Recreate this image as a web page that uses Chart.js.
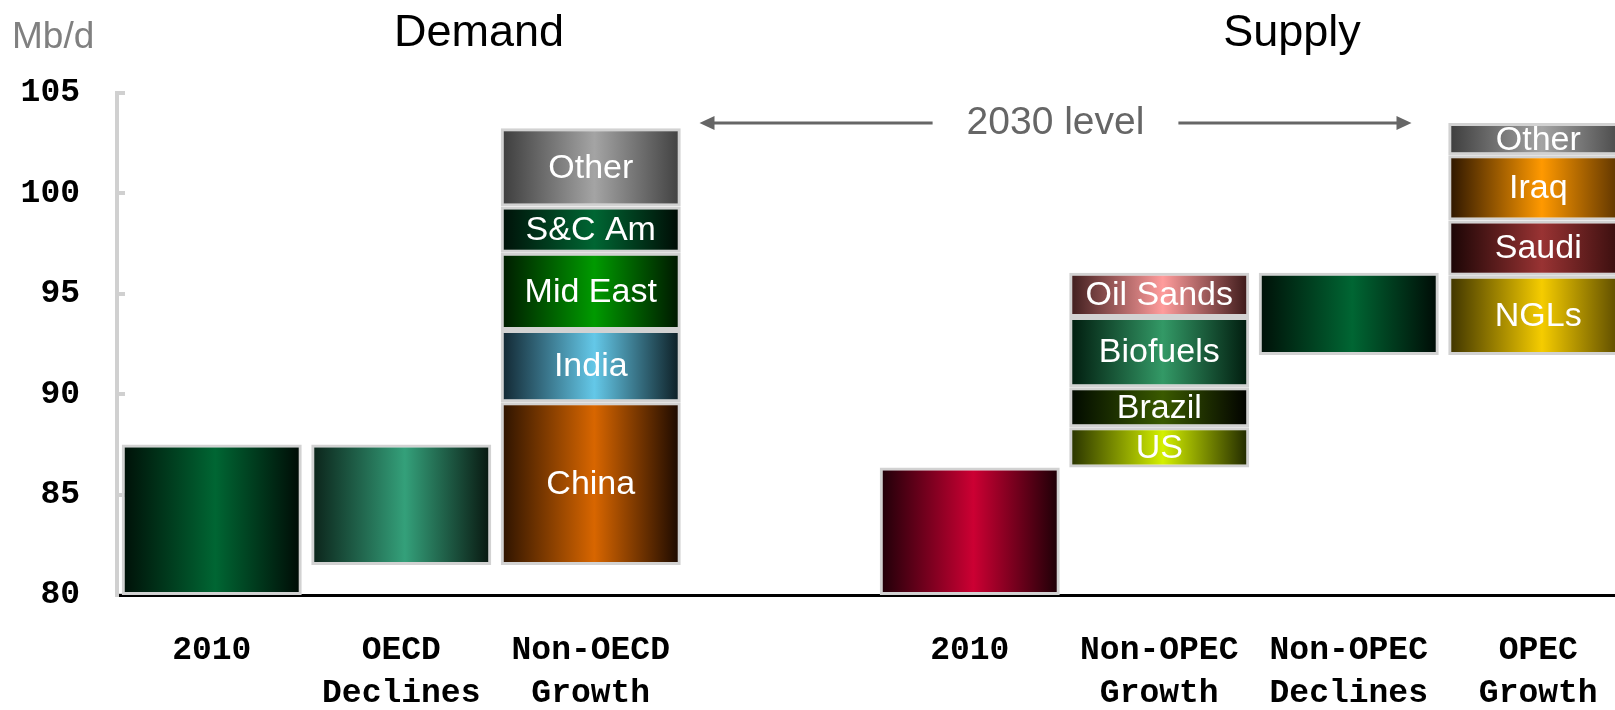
<!DOCTYPE html>
<html>
<head>
<meta charset="utf-8">
<title>Oil demand and supply, 2010 to 2030</title>
<script src="https://cdn.jsdelivr.net/npm/chart.js@4.4.0/dist/chart.umd.min.js"></script>
<style>
  html, body { margin: 0; padding: 0; background: #fff; overflow: hidden; }
  #wrap { width: 1615px; height: 710px; overflow: hidden; }
  canvas { display: block; }
</style>
</head>
<body>
<div id="wrap"><canvas id="oilChart" width="1637" height="710"></canvas></div>
<script>
// Categories (an empty slot separates demand from supply)
const categories = ['2010', ['OECD', 'Declines'], ['Non-OECD', 'Growth'], '',
                    '2010', ['Non-OPEC', 'Growth'], ['Non-OPEC', 'Declines'], ['OPEC', 'Growth']];

// Demand, Mb/d
const demand2010 = 87.5;
const oecdDeclines = -6.0;
const nonOecdRegions = ['China', 'India', 'Mid East', 'S&C Am', 'Other'];
const nonOecdGrowth = [8.1, 3.6, 3.85, 2.3, 3.9];

// Supply, Mb/d
const supply2010 = 86.35;
const nonOpecSources = ['US', 'Brazil', 'Biofuels', 'Oil Sands'];
const nonOpecGrowth = [2.0, 2.0, 3.5, 2.2];
const nonOpecDeclines = -4.1;
const opecSources = ['NGLs', 'Saudi', 'Iraq', 'Other'];
const opecGrowth = [3.95, 2.75, 3.25, 1.6];

const level2030 = 103.5;
const yTicks = [80, 85, 90, 95, 100, 105];

// left edge / centre / right edge colours of each bar gradient
const shades = {
    demand2010: ['#000f07', '#006633', '#000a05'],
    oecd: ['#0b2219', '#34a07a', '#08160f'],
    'China': ['#2b1200', '#d86600', '#190800'],
    'India': ['#112530', '#64c8e8', '#0c1c22'],
    'Mid East': ['#001a00', '#009a00', '#001500'],
    'S&C Am': ['#001008', '#006633', '#000a04'],
    'Other': ['#3c3c3c', '#a4a4a4', '#404040'],
    supply2010: ['#1d0008', '#cc0033', '#1a0006'],
    'US': ['#263000', '#d4f000', '#1e2600'],
    'Brazil': ['#000800', '#3a5a00', '#000000'],
    'Biofuels': ['#001a0d', '#339966', '#001a0d'],
    'Oil Sands': ['#3d1c1c', '#ff9c9c', '#3a1818'],
    nonOpecDecl: ['#000f07', '#006633', '#000a05'],
    'NGLs': ['#3c3200', '#f5cc00', '#4a3c00'],
    'Saudi': ['#180404', '#993333', '#2e0a0a'],
    'Iraq': ['#2a1400', '#ff9900', '#4a2800']
};

// Build the floating segments of the waterfall
const segments = [];
segments.push({ cat: 0, from: yTicks[0], to: demand2010, shade: 'demand2010' });
let level = demand2010 + oecdDeclines;
segments.push({ cat: 1, from: level, to: demand2010, shade: 'oecd' });
nonOecdRegions.forEach(function (name, i) {
    segments.push({ cat: 2, from: level, to: level + nonOecdGrowth[i], name: name, shade: name });
    level += nonOecdGrowth[i];
});
segments.push({ cat: 4, from: yTicks[0], to: supply2010, shade: 'supply2010' });
level = supply2010;
nonOpecSources.forEach(function (name, i) {
    segments.push({ cat: 5, from: level, to: level + nonOpecGrowth[i], name: name, shade: name });
    level += nonOpecGrowth[i];
});
segments.push({ cat: 6, from: level + nonOpecDeclines, to: level, shade: 'nonOpecDecl' });
level += nonOpecDeclines;
opecSources.forEach(function (name, i) {
    segments.push({ cat: 7, from: level, to: level + opecGrowth[i], name: name, shade: name });
    level += opecGrowth[i];
});

const BAR_PCT = 0.95;

function gradientFor(ctx, shade) {
    const chart = ctx.chart;
    const xs = chart.scales.x;
    if (ctx.dataIndex === undefined || !chart.chartArea || !xs) return shade[1];
    const cx = xs.getPixelForValue(ctx.dataIndex);
    const half = (xs.getPixelForValue(1) - xs.getPixelForValue(0)) * BAR_PCT / 2;
    if (!isFinite(cx) || !isFinite(half)) return shade[1];
    const g = chart.ctx.createLinearGradient(cx - half, 0, cx + half, 0);
    g.addColorStop(0, shade[0]);
    g.addColorStop(0.52, shade[1]);
    g.addColorStop(1, shade[2]);
    return g;
}

const datasets = segments.map(function (seg) {
    return {
        label: seg.name || '',
        segName: seg.name,
        cat: seg.cat,
        data: categories.map(function (c, i) { return i === seg.cat ? [seg.from, seg.to] : null; }),
        grouped: false,
        barPercentage: BAR_PCT,
        categoryPercentage: 1,
        borderColor: '#d2d2d2',
        borderWidth: 3,
        borderSkipped: false,
        backgroundColor: function (ctx) { return gradientFor(ctx, shades[seg.shade]); }
    };
});

// White names inside the stacked segments
const segmentLabels = {
    id: 'segmentLabels',
    afterDatasetsDraw(chart) {
        const c = chart.ctx;
        c.save();
        c.font = '34px "Liberation Sans", Arial, sans-serif';
        c.fillStyle = '#ffffff';
        c.textAlign = 'center';
        c.textBaseline = 'middle';
        chart.data.datasets.forEach(function (ds, di) {
            if (!ds.segName) return;
            const el = chart.getDatasetMeta(di).data[ds.cat];
            if (!el) return;
            c.fillText(ds.segName, el.x, (el.y + el.base) / 2 + 1);
        });
        c.restore();
    }
};

// Headings, unit and the "2030 level" arrows
const annotations = {
    id: 'annotations',
    afterDraw(chart) {
        const c = chart.ctx;
        const xs = chart.scales.x, ys = chart.scales.y;
        c.save();
        c.textBaseline = 'middle';
        c.textAlign = 'left';
        c.fillStyle = '#808080';
        c.font = '37px "Liberation Sans", Arial, sans-serif';
        c.fillText('Mb/d', 12, 38);

        c.textAlign = 'center';
        c.fillStyle = '#000000';
        c.font = '45px "Liberation Sans", Arial, sans-serif';
        c.fillText('Demand', 479, 34);
        c.fillText('Supply', 1292, 34);

        const slot = xs.getPixelForValue(1) - xs.getPixelForValue(0);
        const y = ys.getPixelForValue(level2030);
        const leftTip = xs.getPixelForValue(2) + slot / 2 + 14;
        const rightTip = xs.getPixelForValue(7) - slot / 2 - 32;
        const mid = (leftTip + rightTip) / 2;
        c.font = '39px "Liberation Sans", Arial, sans-serif';
        c.fillStyle = '#666666';
        c.fillText('2030 level', mid, y);
        const half = c.measureText('2030 level').width / 2 + 34;

        c.strokeStyle = '#666666';
        c.lineWidth = 3;
        c.beginPath();
        c.moveTo(leftTip + 10, y); c.lineTo(mid - half, y);
        c.moveTo(mid + half, y); c.lineTo(rightTip - 10, y);
        c.stroke();
        c.beginPath();
        c.moveTo(leftTip, y); c.lineTo(leftTip + 15, y - 7); c.lineTo(leftTip + 15, y + 7); c.closePath();
        c.moveTo(rightTip, y); c.lineTo(rightTip - 15, y - 7); c.lineTo(rightTip - 15, y + 7); c.closePath();
        c.fill();
        c.restore();
    }
};

const tickFont = { family: '"Liberation Mono", "DejaVu Sans Mono", monospace', size: 33, weight: 'bold', lineHeight: 1.3 };

new Chart(document.getElementById('oilChart'), {
    type: 'bar',
    data: { labels: categories, datasets: datasets },
    options: {
        responsive: false,
        animation: false,
        devicePixelRatio: 1,
        layout: { padding: { top: 93, right: 4, left: 0, bottom: 0 } },
        plugins: { legend: { display: false }, tooltip: { enabled: false } },
        scales: {
            x: {
                grid: { display: false },
                border: { display: true, color: '#000000', width: 3 },
                ticks: { color: '#000000', font: tickFont, padding: 26, autoSkip: false, maxRotation: 0 },
                afterFit: function (s) { s.height = 115; }
            },
            y: {
                min: yTicks[0],
                max: yTicks[yTicks.length - 1],
                afterBuildTicks: function (s) { s.ticks = yTicks.map(function (v) { return { value: v }; }); },
                grid: { drawOnChartArea: false, drawTicks: true, tickLength: -8, color: '#d0d0d0', lineWidth: 4 },
                border: { display: true, color: '#d0d0d0', width: 4 },
                ticks: { color: '#000000', font: tickFont, padding: 45 },
                afterFit: function (s) { s.width = 117; }
            }
        }
    },
    plugins: [segmentLabels, annotations]
});
</script>
</body>
</html>
